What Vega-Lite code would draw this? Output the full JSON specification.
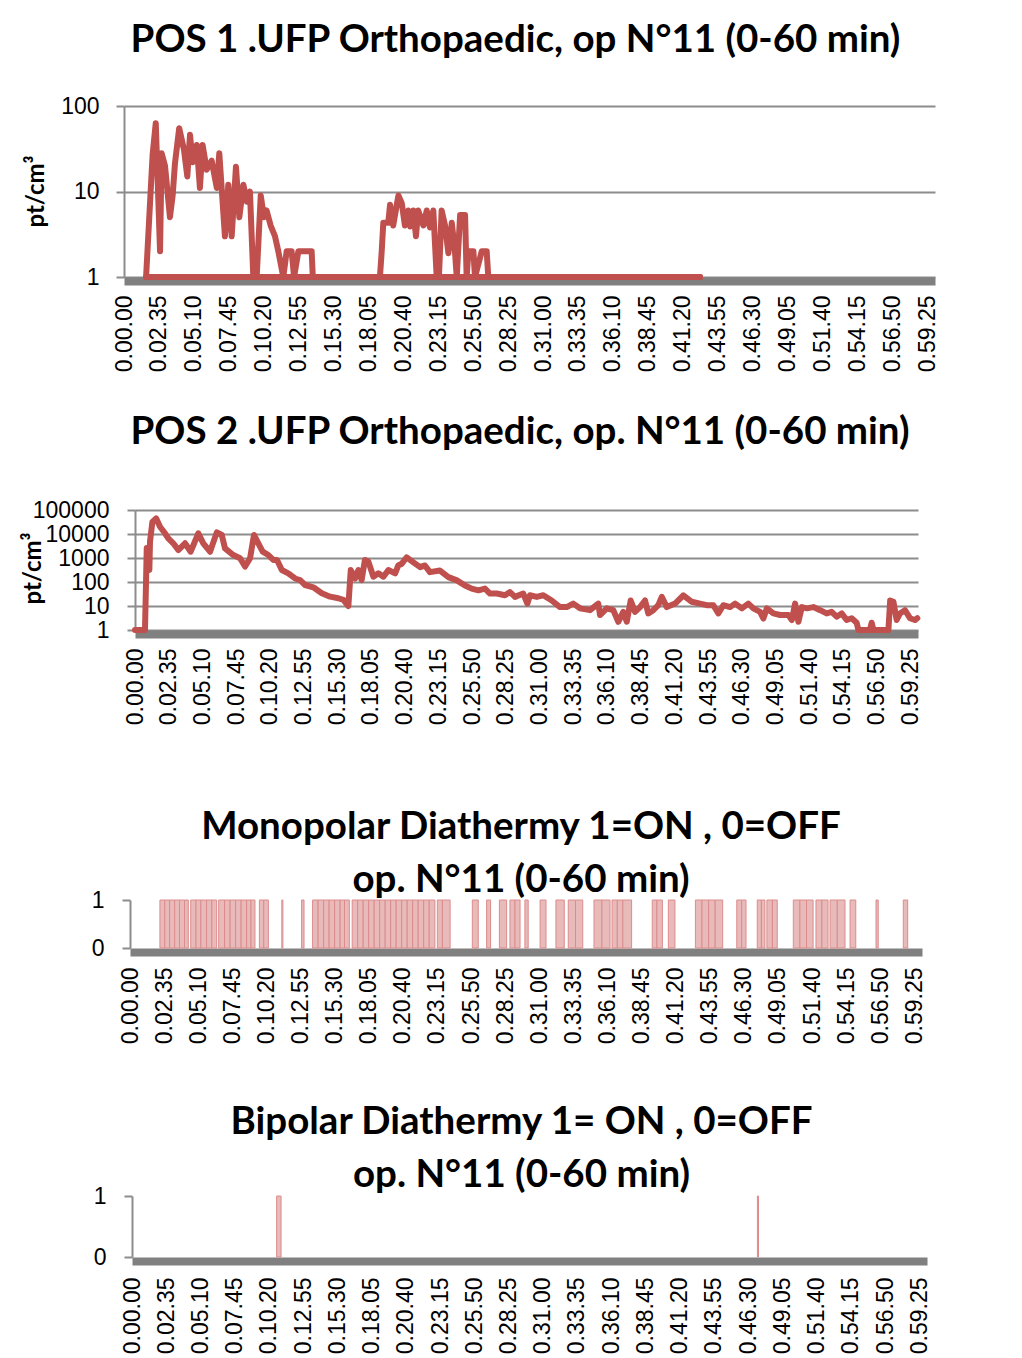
{
  "$schema": "https://vega.github.io/schema/vega-lite/v6.json",
  "padding": {"top": 20, "left": 12, "right": 5, "bottom": 5},
  "spacing": 40,
  "config": {
    "view": {"stroke": null},
    "font": "Liberation Sans",
    "title": {"font": "Lato", "fontWeight": "bold", "fontSize": 38.5, "color": "#000000", "anchor": "middle", "frame": "group", "baseline": "alphabetic", "lineHeight": 53},
    "axis": {
      "labelFont": "Liberation Sans", "labelFontSize": 23, "labelColor": "#000000",
      "titleFont": "Lato", "titleFontSize": 24, "titleFontWeight": "bold", "titleColor": "#000000",
      "domainColor": "#8c8c8c", "tickColor": "#8c8c8c", "gridColor": "#8c8c8c"
    }
  },
  "datasets": {
    "pos1": [
      {"t": 98, "v": 1, "s": "main"}, {"t": 127, "v": 27, "s": "main"}, {"t": 141, "v": 63, "s": "main"}, {"t": 160, "v": 2, "s": "main"},
      {"t": 167, "v": 28, "s": "main"}, {"t": 182, "v": 20, "s": "main"}, {"t": 204, "v": 5, "s": "main"}, {"t": 216, "v": 9, "s": "main"},
      {"t": 226, "v": 21, "s": "main"}, {"t": 245, "v": 55, "s": "main"}, {"t": 266, "v": 31, "s": "main"}, {"t": 281, "v": 15, "s": "main"},
      {"t": 293, "v": 46, "s": "main"}, {"t": 305, "v": 22, "s": "main"}, {"t": 323, "v": 35, "s": "main"}, {"t": 337, "v": 11, "s": "main"},
      {"t": 349, "v": 35, "s": "main"}, {"t": 367, "v": 18, "s": "main"}, {"t": 389, "v": 23, "s": "main"}, {"t": 412, "v": 11, "s": "main"},
      {"t": 423, "v": 28, "s": "main"}, {"t": 448, "v": 3, "s": "main"}, {"t": 463, "v": 12, "s": "main"}, {"t": 478, "v": 3, "s": "main"},
      {"t": 497, "v": 19.5, "s": "main"}, {"t": 512, "v": 5, "s": "main"}, {"t": 530, "v": 12, "s": "main"}, {"t": 545, "v": 7.6, "s": "main"},
      {"t": 559, "v": 10, "s": "main"}, {"t": 574, "v": 1, "s": "main"}, {"t": 589, "v": 1, "s": "main"}, {"t": 607, "v": 9, "s": "main"},
      {"t": 621, "v": 5, "s": "main"}, {"t": 633, "v": 6, "s": "main"}, {"t": 651, "v": 4, "s": "main"}, {"t": 670, "v": 3, "s": "main"},
      {"t": 685, "v": 2, "s": "main"}, {"t": 707, "v": 1, "s": "main"}, {"t": 722, "v": 2, "s": "main"}, {"t": 744, "v": 2, "s": "main"},
      {"t": 755, "v": 1, "s": "main"}, {"t": 774, "v": 2, "s": "main"}, {"t": 833, "v": 2, "s": "main"}, {"t": 838, "v": 1, "s": "main"},
      {"t": 1136, "v": 1, "s": "main"}, {"t": 1144, "v": 2, "s": "main"}, {"t": 1151, "v": 4.3, "s": "main"}, {"t": 1173, "v": 4.3, "s": "main"},
      {"t": 1181, "v": 7, "s": "main"}, {"t": 1195, "v": 4, "s": "main"}, {"t": 1218, "v": 9, "s": "main"}, {"t": 1233, "v": 7.3, "s": "main"},
      {"t": 1247, "v": 4, "s": "main"}, {"t": 1262, "v": 6, "s": "main"}, {"t": 1270, "v": 3.9, "s": "main"}, {"t": 1284, "v": 6, "s": "main"},
      {"t": 1296, "v": 3, "s": "main"}, {"t": 1306, "v": 6, "s": "main"}, {"t": 1329, "v": 4, "s": "main"}, {"t": 1344, "v": 6, "s": "main"},
      {"t": 1358, "v": 3.8, "s": "main"}, {"t": 1373, "v": 6, "s": "main"}, {"t": 1388, "v": 1, "s": "main"}, {"t": 1398, "v": 1, "s": "main"},
      {"t": 1410, "v": 6, "s": "main"}, {"t": 1425, "v": 4, "s": "main"}, {"t": 1440, "v": 1.9, "s": "main"}, {"t": 1455, "v": 4.3, "s": "main"},
      {"t": 1469, "v": 2, "s": "main"}, {"t": 1477, "v": 1, "s": "main"}, {"t": 1492, "v": 5.3, "s": "main"}, {"t": 1514, "v": 5.3, "s": "main"},
      {"t": 1521, "v": 1, "s": "main"}, {"t": 1529, "v": 2, "s": "main"}, {"t": 1551, "v": 2, "s": "main"}, {"t": 1558, "v": 1, "s": "main"},
      {"t": 1588, "v": 2, "s": "main"}, {"t": 1610, "v": 2, "s": "main"}, {"t": 1617, "v": 1, "s": "main"}, {"t": 2557, "v": 1, "s": "main"},
      {"t": 98, "v": 1, "s": "base"}, {"t": 2557, "v": 1, "s": "base"}
    ],
    "pos2": [
      {"t": 0, "v": 1}, {"t": 46, "v": 1}, {"t": 54, "v": 2600}, {"t": 66, "v": 316}, {"t": 69, "v": 4800}, {"t": 80, "v": 32000},
      {"t": 97, "v": 45000}, {"t": 115, "v": 20000}, {"t": 138, "v": 10700}, {"t": 153, "v": 6600}, {"t": 176, "v": 4100}, {"t": 199, "v": 2150},
      {"t": 230, "v": 4100}, {"t": 256, "v": 1830}, {"t": 291, "v": 10700}, {"t": 314, "v": 4100}, {"t": 345, "v": 1830}, {"t": 376, "v": 11700},
      {"t": 399, "v": 9100}, {"t": 414, "v": 2500}, {"t": 452, "v": 1330}, {"t": 483, "v": 980}, {"t": 506, "v": 440}, {"t": 529, "v": 980},
      {"t": 547, "v": 9100}, {"t": 567, "v": 4100}, {"t": 587, "v": 1830}, {"t": 613, "v": 1330}, {"t": 636, "v": 830}, {"t": 653, "v": 830},
      {"t": 675, "v": 316}, {"t": 705, "v": 230}, {"t": 736, "v": 140}, {"t": 759, "v": 120}, {"t": 782, "v": 75}, {"t": 820, "v": 60},
      {"t": 859, "v": 34}, {"t": 897, "v": 24.5}, {"t": 935, "v": 21}, {"t": 958, "v": 18}, {"t": 981, "v": 10}, {"t": 992, "v": 316},
      {"t": 1012, "v": 140}, {"t": 1027, "v": 316}, {"t": 1042, "v": 120}, {"t": 1057, "v": 830}, {"t": 1073, "v": 710}, {"t": 1096, "v": 166},
      {"t": 1119, "v": 230}, {"t": 1142, "v": 166}, {"t": 1165, "v": 316}, {"t": 1196, "v": 230}, {"t": 1211, "v": 500}, {"t": 1226, "v": 570},
      {"t": 1249, "v": 1070}, {"t": 1280, "v": 660}, {"t": 1311, "v": 415}, {"t": 1333, "v": 490}, {"t": 1356, "v": 257}, {"t": 1402, "v": 300},
      {"t": 1441, "v": 160}, {"t": 1480, "v": 117}, {"t": 1517, "v": 72}, {"t": 1548, "v": 53}, {"t": 1579, "v": 45}, {"t": 1609, "v": 53},
      {"t": 1632, "v": 33}, {"t": 1663, "v": 33}, {"t": 1701, "v": 28}, {"t": 1724, "v": 38}, {"t": 1747, "v": 24}, {"t": 1785, "v": 33},
      {"t": 1804, "v": 12.6}, {"t": 1816, "v": 28}, {"t": 1847, "v": 24}, {"t": 1877, "v": 28}, {"t": 1916, "v": 17}, {"t": 1954, "v": 9},
      {"t": 1985, "v": 9}, {"t": 2015, "v": 12.6}, {"t": 2046, "v": 8}, {"t": 2092, "v": 6.7}, {"t": 2130, "v": 12.6}, {"t": 2138, "v": 4.2},
      {"t": 2169, "v": 8}, {"t": 2199, "v": 6.7}, {"t": 2222, "v": 2.2}, {"t": 2245, "v": 5.7}, {"t": 2261, "v": 2.2}, {"t": 2279, "v": 17},
      {"t": 2299, "v": 5.7}, {"t": 2322, "v": 9}, {"t": 2345, "v": 17}, {"t": 2360, "v": 4.9}, {"t": 2383, "v": 6.7}, {"t": 2406, "v": 10.8},
      {"t": 2422, "v": 24}, {"t": 2445, "v": 9}, {"t": 2483, "v": 12.6}, {"t": 2521, "v": 28}, {"t": 2560, "v": 15}, {"t": 2598, "v": 12.6},
      {"t": 2629, "v": 10.8}, {"t": 2659, "v": 10.8}, {"t": 2682, "v": 4.9}, {"t": 2705, "v": 10.8}, {"t": 2736, "v": 9}, {"t": 2759, "v": 12.6},
      {"t": 2790, "v": 8}, {"t": 2820, "v": 12.6}, {"t": 2843, "v": 8}, {"t": 2874, "v": 5.7}, {"t": 2889, "v": 3}, {"t": 2905, "v": 8},
      {"t": 2935, "v": 4.9}, {"t": 2966, "v": 4.2}, {"t": 3004, "v": 4.2}, {"t": 3020, "v": 2.6}, {"t": 3035, "v": 12.6}, {"t": 3050, "v": 2.2},
      {"t": 3066, "v": 9}, {"t": 3089, "v": 8}, {"t": 3119, "v": 9}, {"t": 3150, "v": 6.7}, {"t": 3180, "v": 4.9}, {"t": 3203, "v": 5.7},
      {"t": 3226, "v": 3.6}, {"t": 3249, "v": 4.9}, {"t": 3272, "v": 2.6}, {"t": 3295, "v": 3.1}, {"t": 3318, "v": 2}, {"t": 3326, "v": 1},
      {"t": 3379, "v": 1}, {"t": 3387, "v": 2}, {"t": 3395, "v": 1}, {"t": 3464, "v": 1}, {"t": 3472, "v": 17}, {"t": 3487, "v": 15},
      {"t": 3502, "v": 2.6}, {"t": 3517, "v": 4.9}, {"t": 3540, "v": 6.7}, {"t": 3563, "v": 3.1}, {"t": 3586, "v": 2.6}, {"t": 3597, "v": 3.1}
    ],
    "mono": [
      {"start": 136, "end": 158}, {"start": 158, "end": 180}, {"start": 180, "end": 203}, {"start": 203, "end": 225}, {"start": 225, "end": 248}, {"start": 248, "end": 265},
      {"start": 276, "end": 300}, {"start": 300, "end": 322}, {"start": 322, "end": 348}, {"start": 348, "end": 372}, {"start": 372, "end": 394},
      {"start": 403, "end": 430}, {"start": 430, "end": 455}, {"start": 455, "end": 480}, {"start": 480, "end": 505}, {"start": 505, "end": 530}, {"start": 530, "end": 550}, {"start": 550, "end": 568},
      {"start": 588, "end": 608}, {"start": 608, "end": 629},
      {"start": 690, "end": 695},
      {"start": 780, "end": 791},
      {"start": 830, "end": 855}, {"start": 855, "end": 880}, {"start": 880, "end": 905}, {"start": 905, "end": 930}, {"start": 930, "end": 955}, {"start": 955, "end": 975}, {"start": 975, "end": 997},
      {"start": 1010, "end": 1035}, {"start": 1035, "end": 1060}, {"start": 1060, "end": 1085}, {"start": 1085, "end": 1110}, {"start": 1110, "end": 1135}, {"start": 1135, "end": 1160},
      {"start": 1160, "end": 1185}, {"start": 1185, "end": 1210}, {"start": 1210, "end": 1235}, {"start": 1235, "end": 1260}, {"start": 1260, "end": 1285}, {"start": 1285, "end": 1310},
      {"start": 1310, "end": 1335}, {"start": 1335, "end": 1360}, {"start": 1360, "end": 1386},
      {"start": 1397, "end": 1420}, {"start": 1420, "end": 1455},
      {"start": 1556, "end": 1583},
      {"start": 1621, "end": 1639},
      {"start": 1679, "end": 1712},
      {"start": 1727, "end": 1750}, {"start": 1750, "end": 1773},
      {"start": 1795, "end": 1810},
      {"start": 1864, "end": 1891},
      {"start": 1936, "end": 1974},
      {"start": 1992, "end": 2025}, {"start": 2025, "end": 2058},
      {"start": 2109, "end": 2145}, {"start": 2145, "end": 2182},
      {"start": 2191, "end": 2215}, {"start": 2215, "end": 2240}, {"start": 2240, "end": 2280},
      {"start": 2374, "end": 2395}, {"start": 2395, "end": 2420},
      {"start": 2447, "end": 2477},
      {"start": 2570, "end": 2600}, {"start": 2600, "end": 2630}, {"start": 2630, "end": 2660}, {"start": 2660, "end": 2694},
      {"start": 2758, "end": 2780}, {"start": 2780, "end": 2800},
      {"start": 2851, "end": 2870}, {"start": 2870, "end": 2886},
      {"start": 2895, "end": 2920}, {"start": 2920, "end": 2942},
      {"start": 3015, "end": 3045}, {"start": 3045, "end": 3075}, {"start": 3075, "end": 3105},
      {"start": 3118, "end": 3145}, {"start": 3145, "end": 3173},
      {"start": 3182, "end": 3215}, {"start": 3215, "end": 3250},
      {"start": 3273, "end": 3299},
      {"start": 3391, "end": 3401},
      {"start": 3515, "end": 3535}
    ],
    "bipo": [
      {"start": 655, "end": 675},
      {"start": 2832, "end": 2837}
    ]
  },
  "vconcat": [
    {
      "title": {"text": "POS 1 .UFP Orthopaedic, op N°11 (0-60 min)", "offset": 35, "dx": -14},
      "width": 811,
      "height": 171,
      "data": {"name": "pos1"},
      "mark": {"type": "line", "color": "#c0504d", "strokeWidth": 6, "strokeJoin": "round", "strokeCap": "round"},
      "encoding": {
        "x": {
          "field": "t", "type": "quantitative",
          "scale": {"domain": [0, 3600], "nice": false, "zero": false},
          "axis": {
            "title": null, "values": [0, 155, 310, 465, 620, 775, 930, 1085, 1240, 1395, 1550, 1705, 1860, 2015, 2170, 2325, 2480, 2635, 2790, 2945, 3100, 3255, 3410, 3565],
            "labelExpr": "'0.' + (floor(datum.value / 60) < 10 ? '0' : '') + floor(datum.value / 60) + '.' + (datum.value % 60 < 10 ? '0' : '') + (datum.value % 60)",
            "labelAngle": -90, "labelPadding": 14, "labelOverlap": false, "labelBound": false, "labelFlush": false,
            "ticks": false, "grid": false, "offset": 4, "domainWidth": 8, "domainColor": "#808080"
          }
        },
        "y": {
          "field": "v", "type": "quantitative",
          "scale": {"type": "log", "domain": [1, 100], "nice": false},
          "axis": {
            "title": "pt/cm³", "titleX": -76, "titleY": 85, "values": [1, 10, 100], "format": "d",
            "tickSize": 8, "tickWidth": 2, "gridWidth": 2, "domainWidth": 2, "labelPadding": 17,
            "minExtent": 112, "maxExtent": 112
          }
        },
        "detail": {"field": "s", "type": "nominal"}
      }
    },
    {
      "title": {"text": "POS 2 .UFP Orthopaedic, op. N°11 (0-60 min)", "offset": 47, "dx": -1},
      "width": 794,
      "height": 120,
      "data": {"name": "pos2"},
      "mark": {"type": "line", "color": "#c0504d", "strokeWidth": 6, "strokeJoin": "round", "strokeCap": "round"},
      "encoding": {
        "x": {
          "field": "t", "type": "quantitative",
          "scale": {"domain": [0, 3600], "nice": false, "zero": false, "range": [11, 794]},
          "axis": {
            "title": null, "values": [0, 155, 310, 465, 620, 775, 930, 1085, 1240, 1395, 1550, 1705, 1860, 2015, 2170, 2325, 2480, 2635, 2790, 2945, 3100, 3255, 3410, 3565],
            "labelExpr": "'0.' + (floor(datum.value / 60) < 10 ? '0' : '') + floor(datum.value / 60) + '.' + (datum.value % 60 < 10 ? '0' : '') + (datum.value % 60)",
            "labelAngle": -90, "labelPadding": 14, "labelOverlap": false, "labelBound": false, "labelFlush": false,
            "ticks": false, "grid": false, "offset": 4, "domainWidth": 8, "domainColor": "#808080",
            "minExtent": 133
          }
        },
        "y": {
          "field": "v", "type": "quantitative",
          "scale": {"type": "log", "domain": [1, 100000], "nice": false},
          "axis": {
            "title": "pt/cm³", "titleX": -90, "titleY": 58, "values": [1, 10, 100, 1000, 10000, 100000], "format": "d",
            "tickSize": 8, "tickWidth": 2, "gridWidth": 2, "domainWidth": 2, "labelPadding": 18, "offset": -11,
            "minExtent": 101, "maxExtent": 101
          }
        }
      }
    },
    {
      "title": {"text": ["Monopolar Diathermy 1=ON , 0=OFF", "op. N°11 (0-60 min)"], "offset": -11, "dx": -2},
      "width": 798,
      "height": 48,
      "data": {"name": "mono"},
      "mark": {"type": "rect", "color": "#e8baba", "stroke": "#dc8c8c", "strokeWidth": 1},
      "encoding": {
        "x": {
          "field": "start", "type": "quantitative",
          "scale": {"domain": [0, 3600], "nice": false, "zero": false, "range": [6, 798]},
          "axis": {
            "title": null, "values": [0, 155, 310, 465, 620, 775, 930, 1085, 1240, 1395, 1550, 1705, 1860, 2015, 2170, 2325, 2480, 2635, 2790, 2945, 3100, 3255, 3410, 3565],
            "labelExpr": "'0.' + (floor(datum.value / 60) < 10 ? '0' : '') + floor(datum.value / 60) + '.' + (datum.value % 60 < 10 ? '0' : '') + (datum.value % 60)",
            "labelAngle": -90, "labelPadding": 15, "labelOverlap": false, "labelBound": false, "labelFlush": false,
            "ticks": false, "grid": false, "offset": 4, "domainWidth": 8, "domainColor": "#808080",
            "minExtent": 110
          }
        },
        "x2": {"field": "end"},
        "y": {
          "datum": 1, "type": "quantitative",
          "scale": {"domain": [0, 1], "nice": false},
          "axis": {
            "title": null, "values": [0, 1], "format": "d",
            "tickSize": 8, "tickWidth": 2, "gridWidth": 2, "domainWidth": 2, "labelPadding": 18, "offset": -6,
            "minExtent": 106, "maxExtent": 106
          }
        },
        "y2": {"datum": 0}
      }
    },
    {
      "title": {"text": ["Bipolar Diathermy 1= ON , 0=OFF", "op. N°11 (0-60 min)"], "offset": -10, "dx": -4},
      "width": 803,
      "height": 61,
      "data": {"name": "bipo"},
      "mark": {"type": "rect", "color": "#e8baba", "stroke": "#dc8c8c", "strokeWidth": 1},
      "encoding": {
        "x": {
          "field": "start", "type": "quantitative",
          "scale": {"domain": [0, 3600], "nice": false, "zero": false, "range": [8, 803]},
          "axis": {
            "title": null, "values": [0, 155, 310, 465, 620, 775, 930, 1085, 1240, 1395, 1550, 1705, 1860, 2015, 2170, 2325, 2480, 2635, 2790, 2945, 3100, 3255, 3410, 3565],
            "labelExpr": "'0.' + (floor(datum.value / 60) < 10 ? '0' : '') + floor(datum.value / 60) + '.' + (datum.value % 60 < 10 ? '0' : '') + (datum.value % 60)",
            "labelAngle": -90, "labelPadding": 16, "labelOverlap": false, "labelBound": false, "labelFlush": false,
            "ticks": false, "grid": false, "offset": 4, "domainWidth": 8, "domainColor": "#808080"
          }
        },
        "x2": {"field": "end"},
        "y": {
          "datum": 1, "type": "quantitative",
          "scale": {"domain": [0, 1], "nice": false},
          "axis": {
            "title": null, "values": [0, 1], "format": "d",
            "tickSize": 8, "tickWidth": 2, "gridWidth": 2, "domainWidth": 2, "labelPadding": 18, "offset": -8,
            "minExtent": 104, "maxExtent": 104
          }
        },
        "y2": {"datum": 0}
      }
    }
  ]
}
